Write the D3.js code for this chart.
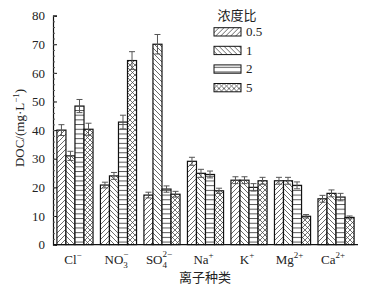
<!DOCTYPE html>
<html>
<head>
<meta charset="utf-8">
<script src="https://cdn.jsdelivr.net/npm/d3@7"></script>
<style>
  body { margin: 0; background: #fff; }
  svg { font-family: "Liberation Serif", "Noto Sans CJK SC", serif; }
</style>
</head>
<body>
<div id="chart"></div>
<script>
// ion categories (label parts: base, subscript, superscript)
const ions = ['Cl', 'NO3', 'SO4', 'Na', 'K', 'Mg', 'Ca'];
const ionLabels = [
  ['Cl', '', '−'], ['NO', '3', '−'], ['SO', '4', '2−'], ['Na', '', '+'],
  ['K', '', '+'], ['Mg', '', '2+'], ['Ca', '', '2+']
];
const ratios = ['0.5', '1', '2', '5'];

// DOC values (mg/L) per concentration ratio
const doc05 = [40.0, 20.8, 17.3, 29.1, 22.5, 22.3, 16.0];
const doc1  = [31.0, 24.0, 70.0, 24.9, 22.5, 22.3, 17.9];
const doc2  = [48.4, 42.8, 19.4, 24.5, 20.0, 20.7, 16.6];
const doc5  = [40.3, 64.3, 17.6, 18.8, 22.3,  9.9,  9.5];
// error bar half-widths
const err05 = [1.9, 1.0, 1.0, 1.4, 1.2, 1.2, 1.2];
const err1  = [1.6, 1.2, 3.4, 1.4, 1.2, 1.2, 1.2];
const err2  = [2.3, 2.4, 1.1, 1.2, 1.3, 1.2, 1.3];
const err5  = [2.1, 3.1, 1.0, 0.9, 1.2, 0.6, 0.5];

const yTicks = [0, 10, 20, 30, 40, 50, 60, 70, 80];

const seriesVals = [doc05, doc1, doc2, doc5];
const seriesErr = [err05, err1, err2, err5];

const W = 379, H = 289;
const svg = d3.select('#chart').append('svg')
  .attr('width', W).attr('height', H);

// hatch patterns
const defs = svg.append('defs');
const pat = (id, draw, size) => {
  const p = defs.append('pattern').attr('id', id)
    .attr('patternUnits', 'userSpaceOnUse')
    .attr('width', size).attr('height', size);
  p.append('rect').attr('width', size).attr('height', size).attr('fill', '#fff');
  draw(p);
};
const hatchStroke = '#444';
pat('p05', p => p.append('path').attr('d', 'M0,5 L5,0 M-1,1 L1,-1 M4,6 L6,4')
  .attr('stroke', hatchStroke).attr('stroke-width', 0.8), 5);
pat('p1', p => p.append('path').attr('d', 'M0,0 L5,5 M4,-1 L6,1 M-1,4 L1,6')
  .attr('stroke', hatchStroke).attr('stroke-width', 0.8), 5);
pat('p2', p => p.append('path').attr('d', 'M0,2.4 L5,2.4')
  .attr('stroke', hatchStroke).attr('stroke-width', 0.9), 4.7);
pat('p5', p => p.append('path').attr('d', 'M0,0 L5,5 M5,0 L0,5 M-1,1 L1,-1 M4,6 L6,4 M-1,4 L1,6 M4,-1 L6,1')
  .attr('stroke', hatchStroke).attr('stroke-width', 0.75), 5);
const fills = ['url(#p05)', 'url(#p1)', 'url(#p2)', 'url(#p5)'];

const x0 = d3.scaleBand().domain(ions).range([53, 358])
  .paddingInner(0.17).paddingOuter(0.09);
const x1 = d3.scaleBand().domain(ratios).range([0, x0.bandwidth()]);
const y = d3.scaleLinear().domain([0, 80]).range([244.6, 15.6]);

// bars
ratios.forEach((r, si) => {
  svg.append('g').selectAll('rect')
    .data(ions)
    .join('rect')
    .attr('x', d => x0(d) + x1(r))
    .attr('y', (d, i) => y(seriesVals[si][i]))
    .attr('width', x1.bandwidth())
    .attr('height', (d, i) => y(0) - y(seriesVals[si][i]))
    .attr('fill', fills[si])
    .attr('stroke', '#111').attr('stroke-width', 1.2);
});

// error bars
ratios.forEach((r, si) => {
  const g = svg.append('g').attr('stroke', '#555').attr('stroke-width', 1);
  ions.forEach((ion, i) => {
    const cx = x0(ion) + x1(r) + x1.bandwidth() / 2;
    const v = seriesVals[si][i], e = seriesErr[si][i];
    g.append('line').attr('x1', cx).attr('x2', cx).attr('y1', y(v - e)).attr('y2', y(v + e));
    [v - e, v + e].forEach(t => {
      g.append('line').attr('x1', cx - 3).attr('x2', cx + 3).attr('y1', y(t)).attr('y2', y(t));
    });
  });
});

// y axis (ticks inward)
const yAxis = svg.append('g').attr('transform', 'translate(53,0)')
  .call(d3.axisLeft(y).tickValues(yTicks).tickSize(-4).tickPadding(8));
yAxis.select('.domain').attr('stroke', '#111').attr('stroke-width', 1.2);
yAxis.selectAll('.tick line').attr('stroke', '#111');
yAxis.selectAll('text').attr('font-size', '13px').attr('fill', '#222')
  .attr('font-family', '"Liberation Serif", serif');
svg.append('g').attr('transform', 'translate(53,0)')
  .call(d3.axisLeft(y).tickValues(d3.range(0, 81, 2)).tickSize(-2).tickFormat(''))
  .call(g => g.select('.domain').remove())
  .selectAll('line').attr('stroke', '#555');

// x axis line
svg.append('line').attr('x1', 53).attr('x2', 358)
  .attr('y1', y(0)).attr('y2', y(0))
  .attr('stroke', '#111').attr('stroke-width', 1.2);

// x category labels
ions.forEach((ion, i) => {
  const [base, sub, sup] = ionLabels[i];
  const t = svg.append('text')
    .attr('x', x0(ion) + x0.bandwidth() / 2 - (sup.length > 1 ? 3 : 2))
    .attr('y', 264).attr('text-anchor', 'middle')
    .attr('font-size', '13px').attr('fill', '#222');
  t.append('tspan').text(base);
  if (sub) {
    t.append('tspan').attr('font-size', '9px').attr('dy', 4).text(sub);
    t.append('tspan').attr('font-size', '9px').attr('dx', -4.5).attr('dy', -11).text(sup);
  } else {
    t.append('tspan').attr('font-size', '9px').attr('dy', -6).text(sup);
  }
});

// axis titles
svg.append('text')
  .attr('x', 205).attr('y', 282).attr('text-anchor', 'middle')
  .attr('font-size', '13px').attr('fill', '#222')
  .attr('font-family', '"Noto Sans CJK SC", sans-serif')
  .text('离子种类');

const yt = svg.append('text')
  .attr('transform', 'translate(24,128) rotate(-90)')
  .attr('text-anchor', 'middle').attr('font-size', '13px').attr('fill', '#222');
yt.append('tspan').text('DOC/(mg·L');
yt.append('tspan').attr('font-size', '9px').attr('dy', -5).text('−1');
yt.append('tspan').attr('dy', 5).text(')');

// legend
svg.append('text').attr('x', 237).attr('y', 20).attr('text-anchor', 'middle')
  .attr('font-size', '13px').attr('fill', '#222')
  .attr('font-family', '"Noto Sans CJK SC", sans-serif')
  .text('浓度比');
ratios.forEach((r, i) => {
  const lg = svg.append('g').attr('transform', `translate(214, ${27.7 + i * 18.6})`);
  lg.append('rect').attr('width', 27).attr('height', 8.3)
    .attr('fill', fills[i]).attr('stroke', '#111').attr('stroke-width', 1);
  lg.append('text').attr('x', 32).attr('y', 8.5)
    .attr('font-size', '13px').attr('fill', '#222').text(r);
});
</script>
</body>
</html>
